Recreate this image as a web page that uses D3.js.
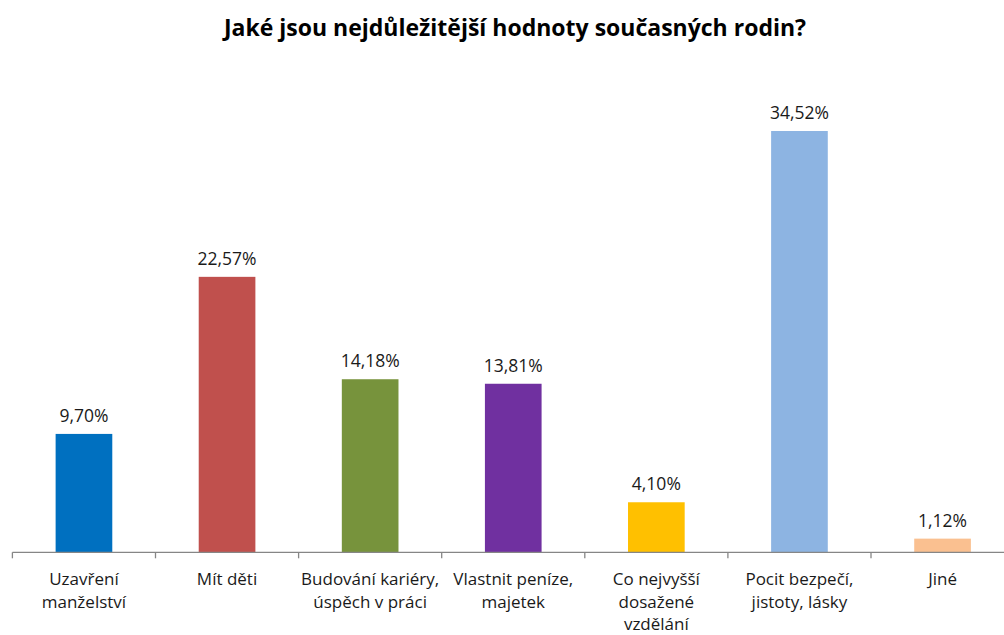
<!DOCTYPE html>
<html>
<head>
<meta charset="utf-8">
<script src="https://cdn.jsdelivr.net/npm/d3@7"></script>
<style>
  html, body { margin: 0; padding: 0; background: #fff; }
  svg { display: block; }
</style>
</head>
<body>
<svg id="chart" width="1004" height="635"></svg>
<script>
const categories = [
  "Uzavření\nmanželství",
  "Mít děti",
  "Budování kariéry,\núspěch v práci",
  "Vlastnit peníze,\nmajetek",
  "Co nejvyšší\ndosažené\nvzdělání",
  "Pocit bezpečí,\njistoty, lásky",
  "Jiné"
];
const values = [9.70, 22.57, 14.18, 13.81, 4.10, 34.52, 1.12];
const valueLabels = ["9,70%", "22,57%", "14,18%", "13,81%", "4,10%", "34,52%", "1,12%"];
const colors = ["#0070C0", "#C0504D", "#77933C", "#7030A0", "#FFC000", "#8DB4E2", "#FAC090"];
const title = "Jaké jsou nejdůležitější hodnoty současných rodin?";

const svg = d3.select("#chart");
const font = "'Open Sans', 'DejaVu Sans', sans-serif";

const x = d3.scaleBand()
  .domain(categories)
  .range([12.4, 1014.1])
  .paddingInner(0.604)
  .paddingOuter(0.302);

const y = d3.scaleLinear()
  .domain([0, 34.52])
  .range([552.3, 131]);

// Title
svg.append("text")
  .attr("x", 515)
  .attr("y", 36)
  .attr("text-anchor", "middle")
  .style("font-family", font)
  .style("font-weight", "bold")
  .style("font-size", "23px")
  .style("fill", "#000")
  .text(title);

// Bars
svg.selectAll("rect.bar")
  .data(values)
  .enter().append("rect")
  .attr("class", "bar")
  .attr("x", (d, i) => x(categories[i]))
  .attr("width", x.bandwidth())
  .attr("y", d => y(d))
  .attr("height", d => y(0) - y(d))
  .attr("fill", (d, i) => colors[i]);

// Value labels
svg.selectAll("text.val")
  .data(values)
  .enter().append("text")
  .attr("class", "val")
  .attr("x", (d, i) => x(categories[i]) + x.bandwidth() / 2)
  .attr("y", d => y(d) - 12)
  .attr("text-anchor", "middle")
  .style("font-family", font)
  .style("font-size", "17.5px")
  .style("fill", "#1a1a1a")
  .text((d, i) => valueLabels[i]);

// Axis
const axisG = svg.append("g")
  .attr("transform", `translate(0,${y(0)})`);
const step = x.step();
const tickPos = categories.map(c => x(c) - (step - x.bandwidth()) / 2);
tickPos.push(tickPos[tickPos.length - 1] + step);

axisG.append("line")
  .attr("x1", x.range()[0]).attr("x2", x.range()[1])
  .attr("y1", 0).attr("y2", 0)
  .attr("stroke", "#868686").attr("stroke-width", 1.3);

axisG.selectAll("line.tick")
  .data(tickPos)
  .enter().append("line")
  .attr("class", "tick")
  .attr("x1", d => d).attr("x2", d => d)
  .attr("y1", 0).attr("y2", 6)
  .attr("stroke", "#868686").attr("stroke-width", 1.3);

// Category labels
const catG = svg.selectAll("text.cat")
  .data(categories)
  .enter().append("text")
  .attr("class", "cat")
  .attr("text-anchor", "middle")
  .style("font-family", font)
  .style("font-size", "17px")
  .style("fill", "#1a1a1a");

catG.each(function(c) {
  const lines = c.split("\n");
  const cx = x(c) + x.bandwidth() / 2;
  d3.select(this).selectAll("tspan")
    .data(lines)
    .enter().append("tspan")
    .attr("x", cx)
    .attr("y", (l, j) => 585 + j * 22.5)
    .text(l => l);
});
</script>
</body>
</html>
